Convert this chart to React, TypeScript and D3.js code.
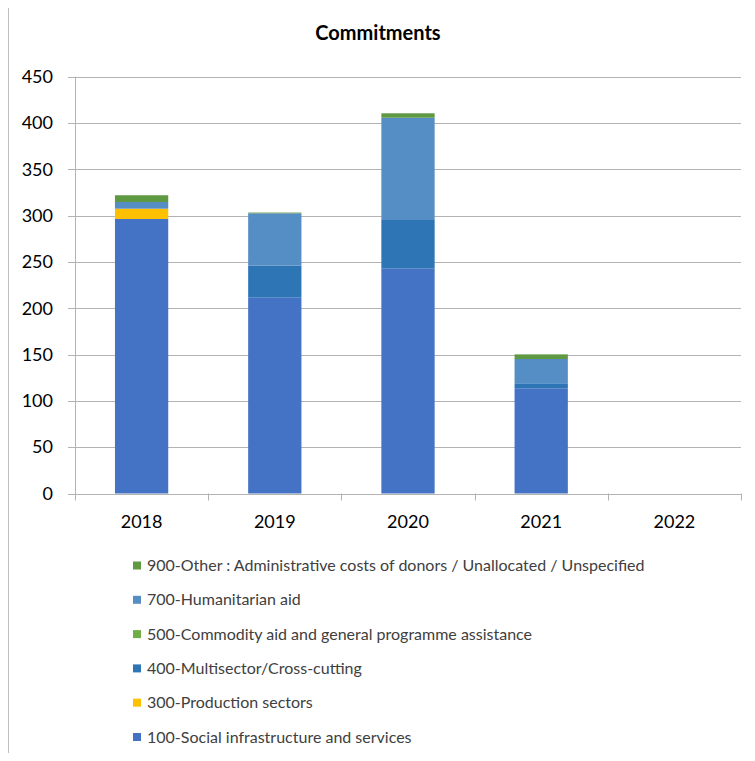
import { useEffect, useRef } from 'react'
import * as d3 from 'd3'

// values (commitments by sector)
const YEARS = ['2018', '2019', '2020', '2021', '2022']
const S100 = [296.4, 211.4, 243.1, 113.6, 0]
const S300 = [11.1, 0, 0, 0, 0]
const S400 = [0, 34.6, 52.2, 5.4, 0]
const S500 = [0, 0, 0, 0, 0]
const S700 = [7.2, 56.5, 110.4, 26.2, 0]
const S900 = [7.3, 0.8, 4.8, 5.0, 0]
const Y_TICKS = [0, 50, 100, 150, 200, 250, 300, 350, 400, 450]

const SERIES = [
  { key: '100', label: '100-Social infrastructure and services', color: '#4472C4', values: S100 },
  { key: '300', label: '300-Production sectors', color: '#FFC000', values: S300 },
  { key: '400', label: '400-Multisector/Cross-cutting', color: '#2E75B6', values: S400 },
  { key: '500', label: '500-Commodity aid and general programme assistance', color: '#70AD47', values: S500 },
  { key: '700', label: '700-Humanitarian aid', color: '#558DC5', values: S700 },
  { key: '900', label: '900-Other : Administrative costs of donors / Unallocated / Unspecified', color: '#5F9A43', values: S900 },
]

const FONT = "Lato, 'Liberation Sans', sans-serif"

export default function App() {
  const svgRef = useRef<SVGSVGElement>(null)

  useEffect(() => {
    const svg = d3.select(svgRef.current)
    svg.selectAll('*').remove()

    const width = 755
    const height = 761
    const plot = { left: 75, right: 741, top: 76.7, bottom: 493.5 }

    svg.attr('width', width).attr('height', height)

    // outer frame
    svg.append('rect')
      .attr('x', 8.5).attr('y', 5.5)
      .attr('width', 760).attr('height', 770)
      .attr('fill', '#fff').attr('stroke', '#bfbfbf')

    svg.append('text')
      .attr('x', 378).attr('y', 40)
      .attr('text-anchor', 'middle')
      .attr('font-family', FONT).attr('font-size', '20px').attr('font-weight', 'bold')
      .attr('fill', '#000')
      .text('Commitments')

    const x = d3.scaleBand<string>().domain(YEARS)
      .range([plot.left, plot.right]).paddingInner(0.6).paddingOuter(0.3)
    const y = d3.scaleLinear().domain([0, 450]).range([plot.bottom, plot.top])

    const g = svg.append('g')

    // gridlines + y tick marks
    g.selectAll('line.grid').data(Y_TICKS).join('line')
      .attr('x1', plot.left - 7).attr('x2', plot.right)
      .attr('y1', d => Math.round(y(d)) + 0.5).attr('y2', d => Math.round(y(d)) + 0.5)
      .attr('stroke', '#b3b3b3').attr('stroke-width', 1)

    g.selectAll('text.ytick').data(Y_TICKS).join('text')
      .attr('x', 53).attr('y', d => y(d))
      .attr('dy', '0.35em')
      .attr('text-anchor', 'end')
      .attr('font-family', FONT).attr('font-size', '18px').attr('fill', '#000')
      .text(d => d)

    // stacked bars
    const table = YEARS.map((yr, i) => {
      const row: Record<string, number | string> = { year: yr }
      SERIES.forEach(s => { row[s.key] = s.values[i] })
      return row
    })
    const stack = d3.stack<Record<string, number | string>>().keys(SERIES.map(s => s.key))
      .value((d, k) => d[k] as number)
    const layers = stack(table)

    layers.forEach((layer, li) => {
      g.selectAll(`rect.s${li}`).data(layer).join('rect')
        .attr('x', d => x(d.data.year as string)!)
        .attr('width', x.bandwidth())
        .attr('y', d => y(d[1]))
        .attr('height', d => Math.max(0, y(d[0]) - y(d[1])))
        .attr('fill', SERIES[li].color)
    })

    // axes lines
    g.append('line')
      .attr('x1', plot.left + 0.5).attr('x2', plot.left + 0.5)
      .attr('y1', plot.top).attr('y2', plot.bottom + 7)
      .attr('stroke', '#b3b3b3')
    g.append('line')
      .attr('x1', plot.left).attr('x2', plot.right)
      .attr('y1', Math.round(plot.bottom) + 0.5).attr('y2', Math.round(plot.bottom) + 0.5)
      .attr('stroke', '#b3b3b3')
    const step = x.step()
    g.selectAll('line.xtick').data(YEARS).join('line')
      .attr('x1', d => Math.round(x(d)! - step * 0.3 + step) + 0.5)
      .attr('x2', d => Math.round(x(d)! - step * 0.3 + step) + 0.5)
      .attr('y1', plot.bottom).attr('y2', plot.bottom + 7)
      .attr('stroke', '#b3b3b3')

    g.selectAll('text.xtick').data(YEARS).join('text')
      .attr('x', d => x(d)! + x.bandwidth() / 2)
      .attr('y', 528)
      .attr('text-anchor', 'middle')
      .attr('font-family', FONT).attr('font-size', '18px').attr('fill', '#000')
      .text(d => d)

    // legend (reversed order, top to bottom)
    const legendItems = [...SERIES].reverse()
    const lg = svg.append('g')
    legendItems.forEach((s, i) => {
      const cy = 565.5 + i * 34.3
      lg.append('rect')
        .attr('x', 133).attr('y', cy - 4)
        .attr('width', 8).attr('height', 8)
        .attr('fill', s.color)
      lg.append('text')
        .attr('x', 147).attr('y', cy)
        .attr('dy', '0.35em')
        .attr('font-family', FONT).attr('font-size', '16px').attr('fill', '#404040')
        .text(s.label)
    })
  }, [])

  return (
    <div style={{ margin: -8 }}>
      <svg ref={svgRef} style={{ display: 'block' }} />
    </div>
  )
}
